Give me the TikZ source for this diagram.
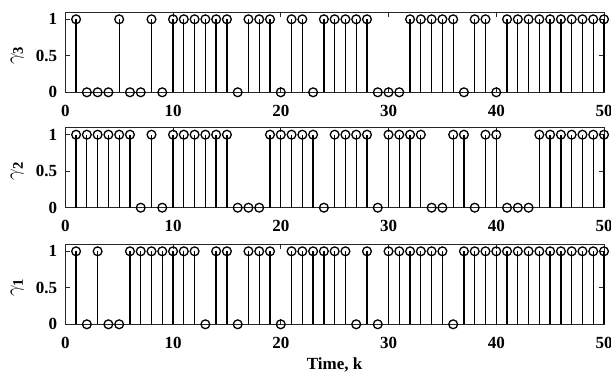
\documentclass[tikz,border=0pt]{standalone}
\usepackage{amsmath}
\usepackage{fontspec}
\setmainfont{Liberation Serif}
\usepackage{tikz}

\newcommand{\seqthree}{1,0,0,0,1,0,0,1,0,1,1,1,1,1,1,0,1,1,1,0,1,1,0,1,1,1,1,1,0,0,0,1,1,1,1,1,0,1,1,0,1,1,1,1,1,1,1,1,1,1}
\newcommand{\seqtwo}{1,1,1,1,1,1,0,1,0,1,1,1,1,1,1,0,0,0,1,1,1,1,1,0,1,1,1,1,0,1,1,1,1,0,0,1,1,0,1,1,0,0,0,1,1,1,1,1,1,1}
\newcommand{\seqone}{1,0,1,0,0,1,1,1,1,1,1,1,0,1,1,0,1,1,1,0,1,1,1,1,1,1,0,1,0,1,1,1,1,1,1,0,1,1,1,1,1,1,1,1,1,1,1,1,1,1}

\tikzset{
  axbox/.style={draw=black!85,line width=0.8pt},
  stem/.style={line width=1.3pt},
  ticklab/.style={inner sep=0pt,font=\fontsize{17}{20}\selectfont\bfseries}
}

\begin{document}
\begin{tikzpicture}[x=1pt,y=1pt]
  \useasboundingbox (0,-374) rectangle (611,0);

  \foreach \p/\s/\dat in {92.3/3/\seqthree,207.7/2/\seqtwo,324.3/1/\seqone}{
    \edef\cur{\dat}
    \begin{scope}[shift={(65.3,-\p)},x=10.774pt,y=73pt]
      \draw[axbox] (0,0) rectangle (50,1.1);
      % ticks
      \foreach \t in {0,10,...,50}{
        \draw[axbox] (\t,0) -- ++(0,5pt);
        \draw[axbox] (\t,1.1) -- ++(0,-5pt);
        \node[ticklab,anchor=north] (x\s-\t) at ([yshift=-12.5pt]\t,0) {\t};
      }
      \foreach \t in {0,0.5,1}{
        \draw[axbox] (0,\t) -- ++(5pt,0);
        \draw[axbox] (50,\t) -- ++(-5pt,0);
        \node[ticklab,anchor=east] (y\s-\t) at ([xshift=-8pt]0,\t) {\t};
      }
      \node[rotate=90,font=\fontsize{21}{24}\selectfont] (lab\s) at ([xshift=-48pt]0,0.5) {$\gamma_{\textbf{\s}}$};
      % stems
      \foreach \v [count=\k] in \cur{
        \draw[stem] (\k,0) -- (\k,\v);
        \draw[stem] (\k,\v) circle (4.4pt);
      }
    \end{scope}
  }

  \node[ticklab] (time) at (334.6,-365) {Time, k};
\end{tikzpicture}
\end{document}
